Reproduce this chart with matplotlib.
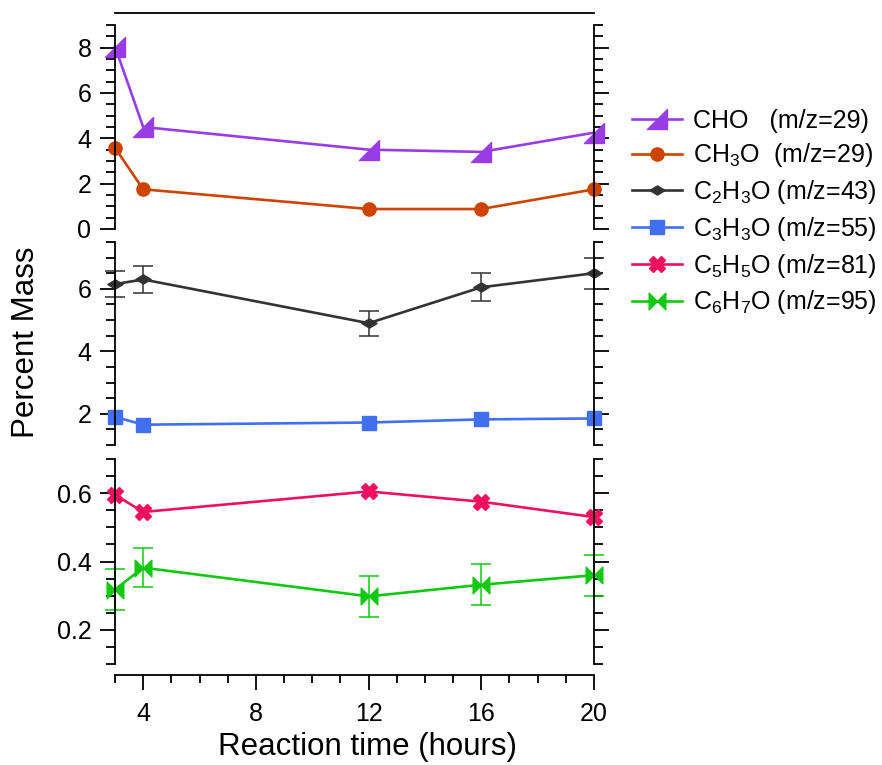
import numpy as np
import matplotlib
matplotlib.use("Agg")
from matplotlib import pyplot as plt
from matplotlib.path import Path
from matplotlib.ticker import MultipleLocator

plt.rcParams['font.family'] = ['Liberation Sans', 'DejaVu Sans']
plt.rcParams['mathtext.fontset'] = 'custom'
plt.rcParams['mathtext.rm'] = 'Liberation Sans'
plt.rcParams['mathtext.it'] = 'Liberation Sans:italic'

hours = [3, 4, 12, 16, 20]

cho = [8.05, 4.5, 3.5, 3.4, 4.25]
ch3o = [3.58, 1.75, 0.88, 0.88, 1.75]
c2h3o = [6.15, 6.3, 4.9, 6.05, 6.5]
c2h3o_err = [0.42, 0.42, 0.4, 0.45, 0.5]
c3h3o = [1.9, 1.65, 1.72, 1.82, 1.85]
c5h5o = [0.595, 0.545, 0.605, 0.575, 0.53]
c6h7o = [0.318, 0.382, 0.298, 0.332, 0.36]
c6h7o_err = [0.06, 0.057, 0.06, 0.06, 0.06]

labels = ['CHO   (m/z=29)', 'CH$_3$O  (m/z=29)', 'C$_2$H$_3$O (m/z=43)',
          'C$_3$H$_3$O (m/z=55)', 'C$_5$H$_5$O (m/z=81)', 'C$_6$H$_7$O (m/z=95)']
colors = ['#9A3CE6', '#CC4400', '#333333', '#4070F0', '#F01060', '#10C810']

# odd Igor-style markers
tri = Path([(-1, -1), (1, -1), (1, 1), (-1, -1)], [1, 2, 2, 79])
bowtie = Path([(-1, 1), (0, 0), (-1, -1), (-1, 1), (1, 1), (0, 0), (1, -1), (1, 1)],
              [1, 2, 2, 79, 1, 2, 2, 79])
flat_diamond = Path([(-1, 0), (0, 0.6), (1, 0), (0, -0.6), (-1, 0)], [1, 2, 2, 2, 79])

fig = plt.figure(figsize=(8.82, 7.65), dpi=100)
L, W = 0.1304, 0.5431
ax1 = fig.add_axes([L, 0.7007, W, 0.2666])
ax2 = fig.add_axes([L, 0.4183, W, 0.2654])
ax3 = fig.add_axes([L, 0.1320, W, 0.2680])

lw = 1.9
handles = []
h, = ax1.plot(hours, cho, color=colors[0], lw=lw, marker=tri, ms=14, clip_on=False)
handles.append(h)
h, = ax1.plot(hours, ch3o, color=colors[1], lw=lw, marker='o', ms=9.5, clip_on=False)
handles.append(h)
eb = ax2.errorbar(hours, c2h3o, yerr=c2h3o_err, color=colors[2], lw=lw, marker=flat_diamond,
                  ms=11, capsize=7, elinewidth=1.1, capthick=1.1, clip_on=False)
for art in eb.lines[1] + eb.lines[2]:
    art.set_clip_on(False)
handles.append(eb.lines[0])
h, = ax2.plot(hours, c3h3o, color=colors[3], lw=lw, marker='s', ms=9.5, clip_on=False)
handles.append(h)
h, = ax3.plot(hours, c5h5o, color=colors[4], lw=lw, marker='X', ms=11, clip_on=False)
handles.append(h)
eb = ax3.errorbar(hours, c6h7o, yerr=c6h7o_err, color=colors[5], lw=lw, marker=bowtie,
                  ms=12, capsize=7, elinewidth=1.1, capthick=1.1, clip_on=False)
for art in eb.lines[1] + eb.lines[2]:
    art.set_clip_on(False)
handles.append(eb.lines[0])

ax1.set_ylim(0, 9)
ax2.set_ylim(1.0, 7.5)
ax3.set_ylim(0.1, 0.7)
ax1.yaxis.set_major_locator(MultipleLocator(2))
ax1.yaxis.set_minor_locator(MultipleLocator(0.5))
ax2.yaxis.set_major_locator(MultipleLocator(2))
ax2.yaxis.set_minor_locator(MultipleLocator(0.5))
ax3.yaxis.set_major_locator(MultipleLocator(0.2))
ax3.yaxis.set_minor_locator(MultipleLocator(0.05))
ax3.yaxis.set_major_formatter(lambda v, p: f'{v:.1f}')

for ax in (ax1, ax2, ax3):
    ax.set_xlim(3, 20)
    ax.set_facecolor('none')
    ax.yaxis.set_ticks_position('both')
    ax.tick_params(axis='y', which='major', direction='out', length=11, width=1.3,
                   labelsize=18, labelright=False, pad=6)
    ax.tick_params(axis='y', which='minor', direction='out', length=6.5, width=1.3)
    ax.spines['left'].set_linewidth(1.3)
    ax.spines['right'].set_linewidth(1.3)
    ax.spines['top'].set_visible(False)
    ax.spines['bottom'].set_visible(False)
    ax.tick_params(axis='x', which='both', bottom=False, top=False, labelbottom=False)

ax1.spines['top'].set_visible(True)
ax1.spines['top'].set_position(('outward', 8.6))
ax1.spines['top'].set_linewidth(1.3)

ax3.spines['bottom'].set_visible(True)
ax3.spines['bottom'].set_position(('outward', 8))
ax3.spines['bottom'].set_linewidth(1.3)
ax3.xaxis.set_major_locator(MultipleLocator(4))
ax3.xaxis.set_minor_locator(MultipleLocator(1))
ax3.tick_params(axis='x', which='major', bottom=True, labelbottom=True, direction='out',
                length=11, width=1.3, labelsize=18, pad=8)
ax3.tick_params(axis='x', which='minor', bottom=True, direction='out', length=5.5, width=1.3)

fig.text(0.030, 0.553, 'Percent Mass', rotation=90, ha='center', va='center', fontsize=22.5)
fig.text(0.417, 0.024, 'Reaction time (hours)', ha='center', va='center', fontsize=22.5)

fig.legend(handles, labels, loc='upper left', bbox_to_anchor=(0.716, 0.858), frameon=False,
           fontsize=18, handlelength=2.0, handletextpad=0.45, labelspacing=0.35,
           borderpad=0, borderaxespad=0, numpoints=1)

fig.savefig('out.png', dpi=100)
